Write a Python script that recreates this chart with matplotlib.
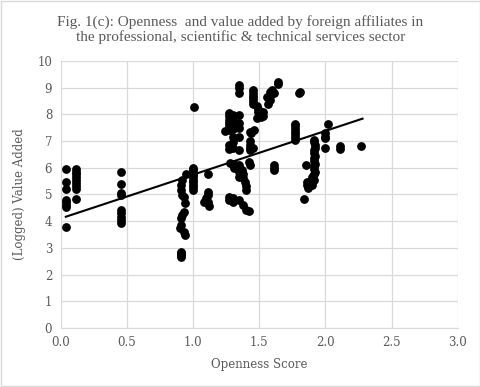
import numpy as np
import matplotlib.pyplot as plt
from matplotlib.patches import Rectangle

openness = [
    0.04, 0.04, 0.04, 0.04, 0.04, 0.04, 0.04, 0.04,
    0.12, 0.12, 0.12, 0.12, 0.12, 0.12, 0.12, 0.12, 0.12,
    0.46, 0.46, 0.46, 0.46, 0.46, 0.46, 0.46, 0.46, 0.46,
    0.95, 0.92, 0.91, 0.91, 0.92, 0.93, 0.94, 0.93, 0.92, 0.91, 0.91, 0.90, 0.93, 0.94,
    0.91, 0.91, 0.91, 0.91,
    1.01, 1.00, 1.00, 1.00, 1.00, 1.00, 1.00, 1.00, 1.00, 1.00, 1.00,
    1.11, 1.11, 1.11, 1.10, 1.08, 1.11, 1.12,
    1.24, 1.27, 1.27, 1.27, 1.27, 1.27, 1.27, 1.27, 1.27, 1.28, 1.27, 1.27,
    1.30, 1.30, 1.30, 1.30, 1.30, 1.30, 1.30, 1.31, 1.31, 1.30, 1.30,
    1.35, 1.35, 1.35, 1.35, 1.35, 1.35, 1.35, 1.35, 1.35, 1.35, 1.35, 1.35, 1.35,
    1.37, 1.38, 1.38, 1.39, 1.40, 1.40, 1.38, 1.40, 1.42,
    1.43, 1.43, 1.43, 1.43, 1.43, 1.42, 1.43,
    1.45, 1.45, 1.45, 1.45, 1.45, 1.45, 1.45, 1.44, 1.46,
    1.48, 1.49, 1.49, 1.50, 1.51, 1.48,
    1.53, 1.53,
    1.56, 1.58, 1.58, 1.58, 1.57,
    1.60, 1.61,
    1.64, 1.64,
    1.61, 1.61, 1.61,
    1.81, 1.80,
    1.77, 1.77, 1.77, 1.77, 1.77, 1.77, 1.77,
    1.91, 1.91, 1.92, 1.92, 1.91, 1.91, 1.92, 1.91, 1.91, 1.92, 1.91, 1.91,
    1.92, 1.91, 1.90, 1.91, 1.90, 1.90,
    1.85, 1.86, 1.86, 1.87, 1.84,
    2.02, 2.00, 2.00, 2.00, 2.00,
    2.11, 2.11, 2.27,
]
value_added = [
    5.96, 5.48, 5.20, 4.79, 4.70, 4.62, 4.53, 3.79,
    5.96, 5.86, 5.76, 5.66, 5.56, 5.44, 5.32, 5.20, 4.82,
    5.83, 5.39, 5.04, 4.98, 4.42, 4.30, 4.17, 4.04, 3.94,
    5.77, 5.54, 5.36, 5.17, 4.98, 4.92, 4.67, 4.36, 4.23, 4.11, 3.86, 3.73, 3.60, 3.48,
    2.86, 2.79, 2.73, 2.66,
    8.29, 5.98, 5.90, 5.82, 5.73, 5.64, 5.55, 5.46, 5.36, 5.27, 5.18,
    5.77, 5.10, 4.98, 4.86, 4.70, 4.70, 4.56,
    7.38, 8.04, 7.92, 7.80, 7.67, 7.55, 7.42, 6.85, 6.70, 6.17, 4.92, 4.78,
    7.98, 7.80, 7.62, 7.45, 7.15, 6.95, 6.75, 6.15, 6.00, 4.85, 4.72,
    9.10, 8.98, 8.79, 7.98, 7.67, 7.48, 7.17, 6.67, 6.10, 5.98, 5.86, 5.67, 4.79,
    5.90, 5.75, 5.60, 5.45, 5.30, 5.17, 4.60, 4.42, 4.38,
    7.35, 7.00, 6.85, 6.75, 6.67, 6.20, 6.10,
    8.90, 8.80, 8.70, 8.60, 8.50, 8.40, 6.75, 7.30, 7.40,
    8.30, 8.20, 8.10, 8.00, 7.90, 7.85,
    8.10, 7.95,
    8.66, 8.85, 8.70, 8.55, 8.40,
    8.90, 8.80,
    9.22, 9.12,
    6.10, 6.00, 5.90,
    8.85, 8.80,
    7.65, 7.55, 7.45, 7.35, 7.25, 7.15, 7.05,
    7.05, 6.95, 6.85, 6.75, 6.65, 6.55, 6.45, 6.35, 6.25, 6.15, 6.05, 5.95,
    5.85, 5.75, 5.65, 5.55, 5.45, 5.35,
    6.10, 5.45, 5.35, 5.25, 4.82,
    7.64, 7.30, 7.17, 7.10, 6.73,
    6.80, 6.72, 6.82,
]

# linear trend line as drawn on the chart
trend_intercept = 4.10
trend_slope = 1.64
trend_x = [0.04, 2.28]

title = "Fig. 1(c): Openness  and value added by foreign affiliates in\nthe professional, scientific & technical services sector"
grey = "#595959"
grid_col = "#d9d9d9"

plt.rcParams['font.family'] = ['DejaVu Serif']

fig = plt.figure(figsize=(4.81, 3.87), dpi=100)
ax = fig.add_axes([0.1258, 0.1525, 0.8262, 0.69])

ax.scatter(openness, value_added, s=28, color="black", zorder=3)
tx = np.array(trend_x)
ax.plot(tx, trend_intercept + trend_slope * tx, color="black", lw=1.5, zorder=4)

ax.set_xlim(0, 3)
ax.set_ylim(0, 10)
ax.set_xticks(np.arange(0, 3.01, 0.5))
ax.set_xticklabels([f"{v:.1f}" for v in np.arange(0, 3.01, 0.5)])
ax.set_yticks(range(0, 11))
ax.grid(True, color=grid_col, lw=0.9)
ax.set_axisbelow(True)
for side in ["top", "right", "left"]:
    ax.spines[side].set_visible(False)
ax.spines["bottom"].set_color(grid_col)
ax.tick_params(length=0, colors=grey, labelsize=8.5, pad=6)

ax.set_xlabel("Openness Score", color=grey, fontsize=8.5, labelpad=6)
ax.set_ylabel("(Logged) Value Added", color=grey, fontsize=8.5, labelpad=8)
fig.text(0.5, 0.962, title, ha="center", va="top", color=grey, fontsize=11,
         family="Liberation Serif", linespacing=1.15)

fig.patches.append(Rectangle((0.002, 0.002), 0.996, 0.995, transform=fig.transFigure,
                             fill=False, edgecolor=grid_col, lw=1))

fig.savefig("out.png", dpi=100)
